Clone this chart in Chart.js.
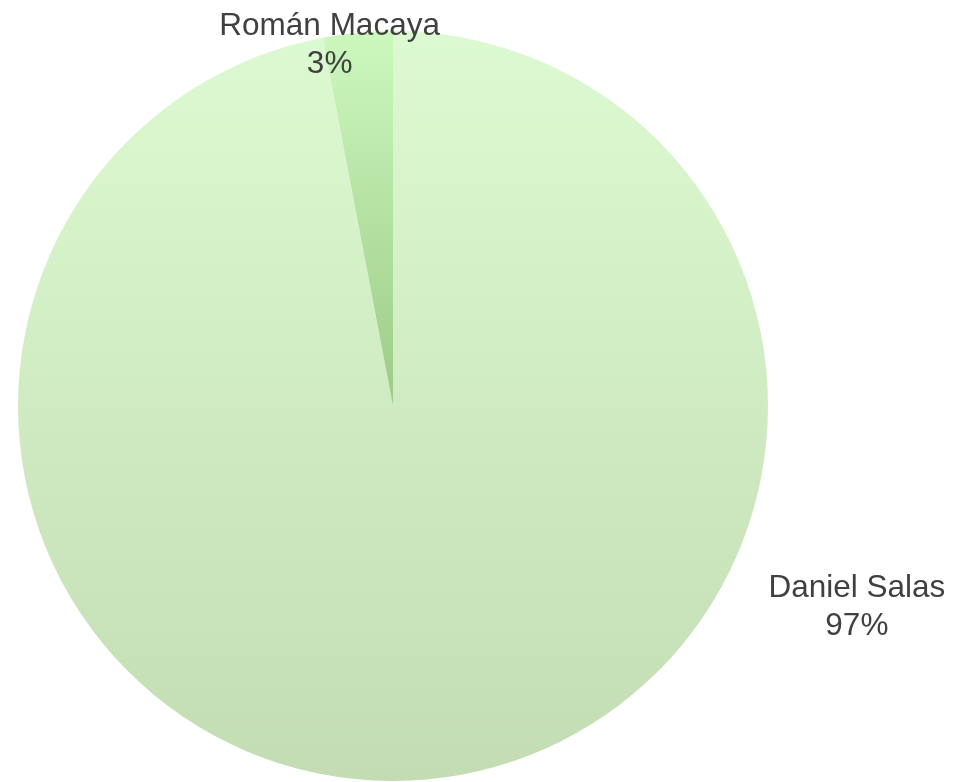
<!DOCTYPE html>
<html>
<head>
<meta charset="utf-8">
<script src="https://cdn.jsdelivr.net/npm/chart.js@4"></script>
<style>
html,body{margin:0;padding:0;background:#fff;}
#wrap{width:953px;height:782px;position:relative;}
</style>
</head>
<body>
<div id="wrap"><canvas id="c" width="953" height="782"></canvas></div>
<script>
const categories = ["Daniel Salas", "Román Macaya"];
const values = [97, 3];
const percentLabels = ["97%", "3%"];

// gradient stops per slice [top, bottom]
const sliceGradients = [["#dcfad1", "#c3dcb3"], ["#ccf8be", "#9ccb86"]];

function sliceFill(ctx) {
  const chart = ctx.chart;
  const area = chart.chartArea;
  if (!area) return sliceGradients[ctx.dataIndex][0];
  const c = chart.ctx;
  const cy = (area.top + area.bottom) / 2;
  const top = area.top;
  const bottom = ctx.dataIndex === 0 ? area.bottom : cy;
  const g = c.createLinearGradient(0, top, 0, bottom);
  g.addColorStop(0, sliceGradients[ctx.dataIndex][0]);
  g.addColorStop(1, sliceGradients[ctx.dataIndex][1]);
  return g;
}

// label offsets relative to radius (placement of data labels)
const labelOffsets = [[1.237, 0.538], [-0.169, -0.963]];

const labelPlugin = {
  id: 'outLabels',
  afterDatasetsDraw(chart) {
    const meta = chart.getDatasetMeta(0);
    const c = chart.ctx;
    c.save();
    c.font = '31.5px "Liberation Sans", Arial, sans-serif';
    c.fillStyle = '#404040';
    c.textAlign = 'center';
    c.textBaseline = 'middle';
    meta.data.forEach((arc, i) => {
      const r = arc.outerRadius;
      const x = arc.x + labelOffsets[i][0] * r;
      const y = arc.y + labelOffsets[i][1] * r;
      c.fillText(categories[i], x, y - 19);
      c.fillText(percentLabels[i], x, y + 19);
    });
    c.restore();
  }
};

new Chart(document.getElementById('c'), {
  type: 'pie',
  data: {
    labels: categories,
    datasets: [{
      data: values,
      backgroundColor: sliceFill,
      borderWidth: 0
    }]
  },
  options: {
    responsive: false,
    animation: false,
    layout: { padding: { left: 18, right: 185, top: 31, bottom: 1 } },
    plugins: { legend: { display: false }, tooltip: { enabled: false } }
  },
  plugins: [labelPlugin]
});
</script>
</body>
</html>
